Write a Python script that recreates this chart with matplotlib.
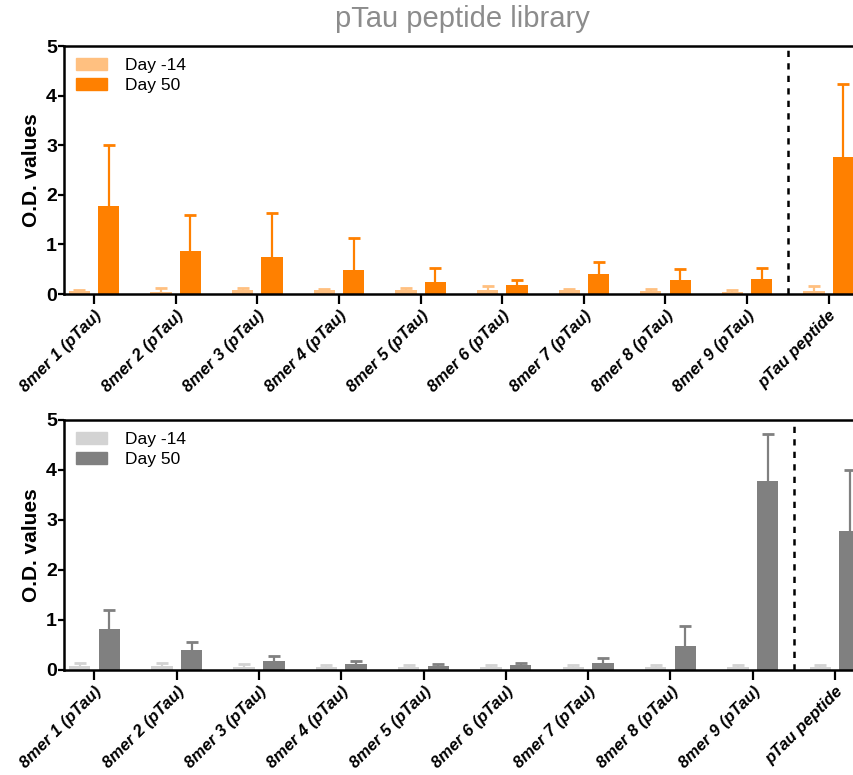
import numpy as np
import matplotlib
matplotlib.use("Agg")
import matplotlib.pyplot as plt
from matplotlib.patches import Patch

plt.rcParams['font.family'] = ['Liberation Sans', 'DejaVu Sans']

# Datos
labels = ["8mer 1 (pTau)", "8mer 2 (pTau)", "8mer 3 (pTau)", "8mer 4 (pTau)",
          "8mer 5 (pTau)", "8mer 6 (pTau)", "8mer 7 (pTau)", "8mer 8 (pTau)",
          "8mer 9 (pTau)", "pTau peptide"]

# panel superior (naranja)
top_pre = [0.07, 0.05, 0.08, 0.08, 0.08, 0.08, 0.08, 0.07, 0.05, 0.07]
top_pre_err = [0.02, 0.07, 0.05, 0.03, 0.05, 0.09, 0.02, 0.03, 0.03, 0.09]
top_d50 = [1.77, 0.87, 0.75, 0.48, 0.24, 0.18, 0.40, 0.28, 0.30, 2.76]
top_d50_err = [1.23, 0.72, 0.88, 0.65, 0.29, 0.10, 0.24, 0.22, 0.23, 1.47]

# panel inferior (gris)
bot_pre = [0.08, 0.07, 0.06, 0.06, 0.06, 0.06, 0.06, 0.06, 0.06, 0.06]
bot_pre_err = [0.05, 0.07, 0.06, 0.04, 0.04, 0.03, 0.04, 0.04, 0.03, 0.04]
bot_d50 = [0.82, 0.39, 0.17, 0.12, 0.08, 0.10, 0.13, 0.48, 3.78, 2.78]
bot_d50_err = [0.38, 0.16, 0.10, 0.05, 0.03, 0.03, 0.10, 0.39, 0.94, 1.21]


def draw_panel(ax, pre, pre_err, d50, d50_err, c_light, c_dark, xmax):
    x = np.arange(len(labels))
    w = 0.26
    off = 0.18
    n = len(labels)
    ax.bar(x - off, pre, width=w, color=c_light, zorder=2)
    ax.bar(x + off, d50, width=w, color=c_dark, zorder=2)
    for xs, vals, errs, col in [(x - off, pre, pre_err, c_light), (x + off, d50, d50_err, c_dark)]:
        _, caps, _ = ax.errorbar(xs, vals, yerr=[np.zeros(n), errs], fmt='none',
                                 ecolor=col, elinewidth=1.6, capsize=4.5,
                                 capthick=2, zorder=1)
        caps[0].set_visible(False)   # solo barra superior

    # linea divisoria
    ax.axvline(8.5, color='black', linestyle=(0, (2.5, 2.5)), linewidth=1.8)

    ax.set_xlim(-0.37, xmax)
    ax.set_ylim(0, 5)
    ax.set_yticks(range(6))
    ax.set_xticks(x)
    ax.set_xticklabels(labels, rotation=45, ha='right', rotation_mode='anchor',
                       fontsize=12, fontweight='bold', fontstyle='italic')
    for t in ax.get_yticklabels():
        t.set_fontweight('bold')
        t.set_fontsize(14)
    ax.set_ylabel("O.D. values", fontsize=15, fontweight='bold', labelpad=4)
    ax.tick_params(axis='x', length=7, width=1.6, pad=3)
    ax.tick_params(axis='y', length=4, width=1.6, pad=1)
    for s in ['left', 'bottom', 'top']:
        ax.spines[s].set_linewidth(1.8)
    ax.spines['right'].set_visible(False)

    handles = [Patch(color=c_light, label="Day -14"), Patch(color=c_dark, label="Day 50")]
    ax.legend(handles=handles, loc='upper left', frameon=False, fontsize=12.5,
              handlelength=1.8, handleheight=0.7, borderaxespad=0.3,
              labelspacing=0.25, handletextpad=1.0, bbox_to_anchor=(0.0, 1.0))


fig = plt.figure(figsize=(8.54, 7.75), dpi=100)
ax1 = fig.add_axes([0.0749, 0.6206, 0.9251, 0.32])
ax2 = fig.add_axes([0.0749, 0.1355, 0.9251, 0.3226])

draw_panel(ax1, top_pre, top_pre_err, top_d50, top_d50_err, '#FFC080', '#FF8000', 9.31)
draw_panel(ax2, bot_pre, bot_pre_err, bot_d50, bot_d50_err, '#D3D3D3', '#808080', 9.23)

fig.text(0.542, 0.975, "pTau peptide library", ha='center', va='center',
         fontsize=21, color='#8C8C8C')

fig.savefig("out.png", dpi=100)
